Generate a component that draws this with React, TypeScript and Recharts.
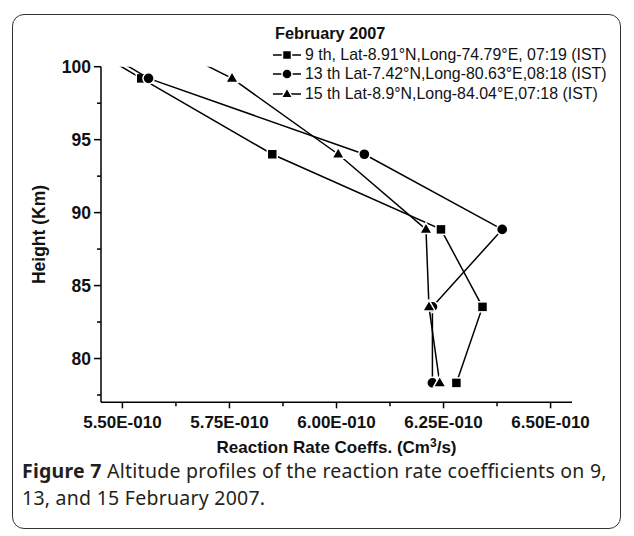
import React from 'react';
import { ScatterChart, Scatter, XAxis, YAxis, Legend } from 'recharts';

// ---- data (values in units of 1E-010 cm^3/s, heights in km) ----
const heights = [101.0, 99.2, 94.0, 88.85, 83.54, 78.33];
const feb09 = [5.44, 5.544, 5.85, 6.244, 6.341, 6.28];
const feb13 = [5.458, 5.561, 6.065, 6.387, 6.224, 6.224];
const feb15 = [5.634, 5.756, 6.004, 6.209, 6.216, 6.241];
const seriesNames = [
  '9 th, Lat-8.91°N,Long-74.79°E, 07:19 (IST)',
  '13 th Lat-7.42°N,Long-80.63°E,08:18 (IST)',
  '15 th Lat-8.9°N,Long-84.04°E,07:18 (IST)',
];
const seriesShapes = ['square', 'circle', 'triangle'];
const legendTitle = 'February 2007';
const xTicks = [5.5, 5.625, 5.75, 5.875, 6.0, 6.125, 6.25, 6.375, 6.5];
const xMajor = [5.5, 5.75, 6.0, 6.25, 6.5];
const yTicks = [77.5, 80, 82.5, 85, 87.5, 90, 92.5, 95, 97.5, 100];
const yMajor = [80, 85, 90, 95, 100];
const xTitle = 'Reaction Rate Coeffs. (Cm';
const yTitle = 'Height (Km)';
const captionBold = 'Figure 7';
const captionLine1 = ' Altitude profiles of the reaction rate coefficients on 9,';
const captionLine2 = '13, and 15 February 2007.';

// ---- layout ----
const W = 634;
const H = 470;
const M = { top: 66.7, right: 62, bottom: 17.7, left: 41 };
const Y_AXIS_W = 60;
const X_AXIS_H = 50;
const AXIS_X = M.left + Y_AXIS_W;
const AXIS_Y = H - M.bottom - X_AXIS_H;
const FONT = '"Liberation Sans", Arial, sans-serif';

const fmt = (v: number) => v.toFixed(2) + 'E-010';
const isMajor = (v: number, arr: number[]) => arr.some((m) => Math.abs(m - v) < 1e-6);

const Marker = ({ kind, cx, cy, s = 1 }: { kind: string; cx: number; cy: number; s?: number }) => {
  if (cx == null || cy == null || isNaN(cx) || isNaN(cy)) return <g />;
  if (kind === 'square') {
    const h = 5 * s;
    return <rect x={cx - h} y={cy - h} width={2 * h} height={2 * h} fill="#000" stroke="#fff" strokeWidth={1.5} />;
  }
  if (kind === 'circle') {
    return <circle cx={cx} cy={cy} r={5.6 * s} fill="#000" stroke="#fff" strokeWidth={1.5} />;
  }
  const r = 6.8 * s;
  const pts = `${cx},${cy - r} ${cx + r * 0.92},${cy + r * 0.6} ${cx - r * 0.92},${cy + r * 0.6}`;
  return <polygon points={pts} fill="#000" stroke="#fff" strokeWidth={1.5} />;
};

const XTick = (props: any) => {
  const { x, payload } = props;
  const v = payload.value;
  const major = isMajor(v, xMajor);
  return (
    <g>
      <line x1={x} x2={x} y1={AXIS_Y} y2={AXIS_Y + (major ? 6 : 4)} stroke="#000" strokeWidth={1.5} />
      {major && (
        <text x={x} y={AXIS_Y + 26} textAnchor="middle" fontFamily={FONT} fontWeight="bold" fontSize={17} fill="#111">
          {fmt(v)}
        </text>
      )}
    </g>
  );
};

const YTick = (props: any) => {
  const { y, payload } = props;
  const v = payload.value;
  const major = isMajor(v, yMajor);
  return (
    <g>
      <line x1={AXIS_X - (major ? 7 : 4)} x2={AXIS_X} y1={y} y2={y} stroke="#000" strokeWidth={1.5} />
      {major && (
        <text x={AXIS_X - 10} y={y} dy="0.36em" textAnchor="end" fontFamily={FONT} fontWeight="bold" fontSize={17.5} fill="#111">
          {v}
        </text>
      )}
    </g>
  );
};

const XTitle = (props: any) => {
  const vb = props.viewBox || {};
  const cx = vb.x + vb.width / 2;
  return (
    <text x={cx} y={AXIS_Y + 50.5} textAnchor="middle" fontFamily={FONT} fontWeight="bold" fontSize={17} fill="#111">
      {xTitle}
      <tspan fontSize={12} dy={-6}>3</tspan>
      <tspan dy={6}>/s)</tspan>
    </text>
  );
};

const YTitle = () => {
  const cy = (M.top + AXIS_Y) / 2;
  const cx = 39;
  return (
    <text x={cx} y={cy} transform={`rotate(-90 ${cx} ${cy})`} dy="0.36em" textAnchor="middle" fontFamily={FONT} fontWeight="bold" fontSize={17.5} fill="#111">
      {yTitle}
    </text>
  );
};

const renderLegend = () => (
  <div style={{ fontFamily: FONT, color: '#111', lineHeight: 1 }}>
    <div style={{ fontWeight: 'bold', fontSize: 16.3, height: 20, marginLeft: 2 }}>{legendTitle}</div>
    {seriesNames.map((n, i) => (
      <div key={n} style={{ display: 'flex', alignItems: 'center', height: 19.5, fontSize: 15.9 }}>
        <svg width={32} height={16} style={{ flex: 'none' }}>
          <line x1={0} x2={28} y1={8} y2={8} stroke="#000" strokeWidth={1.5} />
          <Marker kind={seriesShapes[i]} cx={14} cy={8} s={0.9} />
        </svg>
        <span style={{ whiteSpace: 'nowrap' }}>{n}</span>
      </div>
    ))}
  </div>
);

const mk = (vals: number[]) => heights.map((h, i) => ({ x: vals[i], y: h }));
const allSeries = [feb09, feb13, feb15].map(mk);

export default function App() {
  return (
    <div style={{ position: 'absolute', left: 0, top: 0, width: W, height: 536, background: '#fff', overflow: 'hidden' }}>
      <div
        style={{
          position: 'absolute',
          left: 12,
          top: 14,
          width: 607,
          height: 513,
          border: '1.5px solid #333',
          borderRadius: 12,
        }}
      />
      <div style={{ position: 'absolute', left: 0, top: 0 }}>
        <ScatterChart width={W} height={H} margin={M}>
          <XAxis
            type="number"
            dataKey="x"
            domain={[5.45, 6.55]}
            allowDataOverflow
            ticks={xTicks}
            interval={0}
            tick={<XTick />}
            tickLine={false}
            axisLine={{ stroke: '#000', strokeWidth: 1.5 }}
            height={X_AXIS_H}
            label={<XTitle />}
          />
          <YAxis
            type="number"
            dataKey="y"
            domain={[77, 100]}
            allowDataOverflow
            ticks={yTicks}
            interval={0}
            tick={<YTick />}
            tickLine={false}
            axisLine={{ stroke: '#000', strokeWidth: 1.5 }}
            width={Y_AXIS_W}
            label={<YTitle />}
          />
          <Legend
            layout="horizontal"
            verticalAlign="middle"
            align="center"
            content={renderLegend}
            wrapperStyle={{ left: 273, top: 25, width: 360, height: 90 }}
          />
          {allSeries.map((d, i) => (
            <Scatter
              key={i}
              name={seriesNames[i]}
              data={d}
              line={{ stroke: '#000', strokeWidth: 1.5 }}
              lineType="joint"
              shape={(p: any) => <Marker kind={seriesShapes[i]} cx={p.cx} cy={p.cy} />}
              isAnimationActive={false}
            />
          ))}
        </ScatterChart>
      </div>
      <div
        style={{
          position: 'absolute',
          left: 22,
          top: 457,
          width: 600,
          fontFamily: '"Noto Sans", "Open Sans", sans-serif',
          fontSize: 19.5,
          lineHeight: '27px',
          letterSpacing: 0.25,
          color: '#231f20',
          whiteSpace: 'nowrap',
        }}
      >
        <div>
          <b>{captionBold}</b>
          <span>{captionLine1}</span>
        </div>
        <div>{captionLine2}</div>
      </div>
    </div>
  );
}
